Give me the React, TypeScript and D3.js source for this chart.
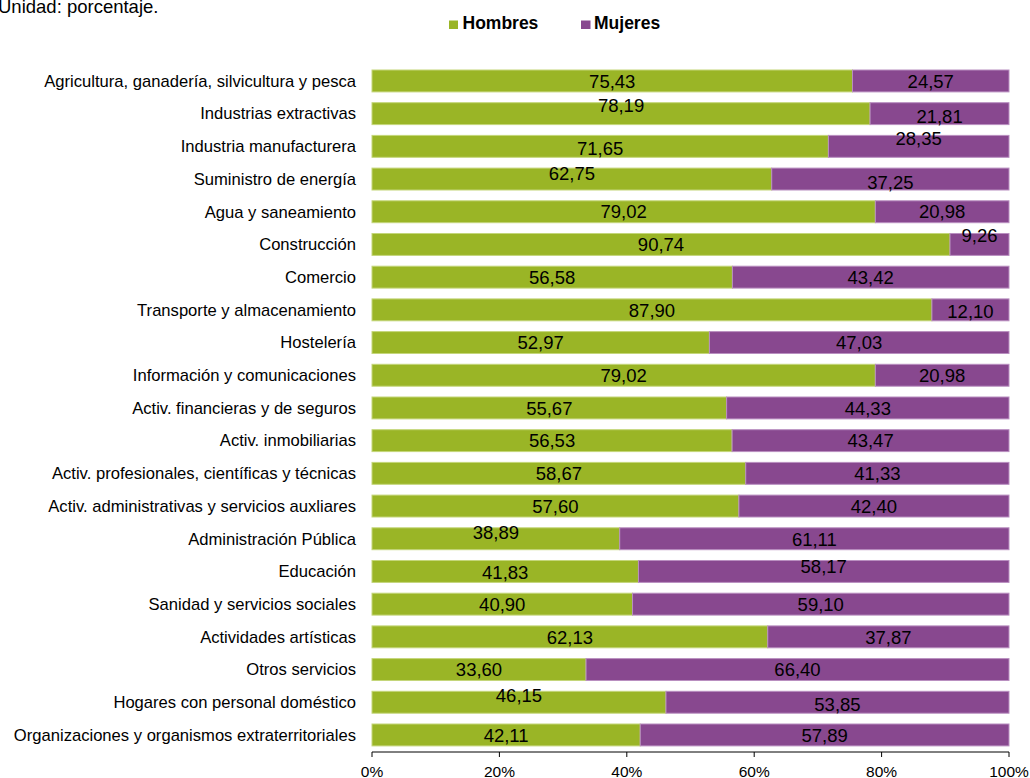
import React from "react";
import * as d3 from "d3";

const categories = [
  "Agricultura, ganadería, silvicultura y pesca",
  "Industrias extractivas",
  "Industria manufacturera",
  "Suministro de energía",
  "Agua y saneamiento",
  "Construcción",
  "Comercio",
  "Transporte y almacenamiento",
  "Hostelería",
  "Información y comunicaciones",
  "Activ. financieras y de seguros",
  "Activ. inmobiliarias",
  "Activ. profesionales, científicas y técnicas",
  "Activ. administrativas y servicios auxliares",
  "Administración Pública",
  "Educación",
  "Sanidad y servicios sociales",
  "Actividades artísticas",
  "Otros servicios",
  "Hogares con personal doméstico",
  "Organizaciones y organismos extraterritoriales",
];

const hombres = [75.43, 78.19, 71.65, 62.75, 79.02, 90.74, 56.58, 87.9, 52.97, 79.02, 55.67, 56.53, 58.67, 57.6, 38.89, 41.83, 40.9, 62.13, 33.6, 46.15, 42.11];
const mujeres = [24.57, 21.81, 28.35, 37.25, 20.98, 9.26, 43.42, 12.1, 47.03, 20.98, 44.33, 43.47, 41.33, 42.4, 61.11, 58.17, 59.1, 37.87, 66.4, 53.85, 57.89];

const xTicks = [0, 20, 40, 60, 80, 100];

const seriesNames = ["Hombres", "Mujeres"];
const seriesColors = ["#9AB526", "#88488F"];
const seriesStroke = ["#C4D67A", "#B98FC0"];

// small vertical nudges of the data labels as seen in the reference (px)
const nudgeH = [0, -8, 2, -6, 0, 0, 0, 0, 0, 0, 0, 0, 0, 0, -6, 1, 0, 0, 0, -7, 0];
const nudgeM = [0, 3, -8, 3, 0, -9, 0, 1, 0, 0, 0, 0, 0, 0, 1, -5, 0, 0, 0, 2, 0];

const fmt = (v: number) => v.toFixed(2).replace(".", ",");

export default function App() {
  const W = 1030;
  const H = 778;
  const x0 = 372;
  const x1 = 1009;
  const x = d3.scaleLinear().domain([0, 100]).range([x0, x1]);
  const y = d3
    .scaleBand<string>()
    .domain(categories)
    .range([64.6, 751.3])
    .paddingInner(0.33)
    .paddingOuter(0.165);
  const bw = y.bandwidth();
  const axisY = 752;
  const font = "Liberation Sans, Arial, sans-serif";

  return (
    <svg
      width={W}
      height={H}
      style={{ position: "absolute", left: 0, top: 0, background: "#fff" }}
      fontFamily={font}
    >
      <text x={-2} y={13} fontSize={18.5} fill="#000">
        Unidad: porcentaje.
      </text>

      {/* legend */}
      <rect x={449} y={20.5} width={9} height={8.5} fill={seriesColors[0]} />
      <text x={462.5} y={29} fontSize={17.5} fontWeight="bold" fill="#000">
        {seriesNames[0]}
      </text>
      <rect x={581} y={20.5} width={9.5} height={8.5} fill={seriesColors[1]} />
      <text x={594} y={29} fontSize={17.5} fontWeight="bold" fill="#000">
        {seriesNames[1]}
      </text>

      {categories.map((c, i) => {
        const yy = y(c) as number;
        const cy = yy + bw / 2;
        const h = hombres[i];
        const m = mujeres[i];
        return (
          <g key={c}>
            <text x={356} y={cy} dy="0.35em" fontSize={16.6} textAnchor="end" fill="#000">
              {c}
            </text>
            <rect
              x={x(0)}
              y={yy}
              width={x(h) - x(0)}
              height={bw}
              fill={seriesColors[0]}
              stroke={seriesStroke[0]}
              strokeWidth={1}
            />
            <rect
              x={x(h)}
              y={yy}
              width={x(h + m) - x(h)}
              height={bw}
              fill={seriesColors[1]}
              stroke={seriesStroke[1]}
              strokeWidth={1}
            />
            <text
              x={(x(0) + x(h)) / 2}
              y={cy + nudgeH[i]}
              dy="0.36em"
              fontSize={18.5}
              textAnchor="middle"
              fill="#000"
            >
              {fmt(h)}
            </text>
            <text
              x={(x(h) + x(h + m)) / 2}
              y={cy + nudgeM[i]}
              dy="0.36em"
              fontSize={18.5}
              textAnchor="middle"
              fill="#000"
            >
              {fmt(m)}
            </text>
          </g>
        );
      })}

      {/* x axis */}
      <line x1={x0} x2={x1} y1={axisY} y2={axisY} stroke="#000" strokeWidth={1} />
      {xTicks.map((t) => (
        <g key={t}>
          <line x1={x(t)} x2={x(t)} y1={axisY} y2={axisY + 5} stroke="#000" strokeWidth={1} />
          <text x={x(t)} y={776.5} fontSize={15.5} textAnchor="middle" fill="#000">
            {t}%
          </text>
        </g>
      ))}
    </svg>
  );
}
